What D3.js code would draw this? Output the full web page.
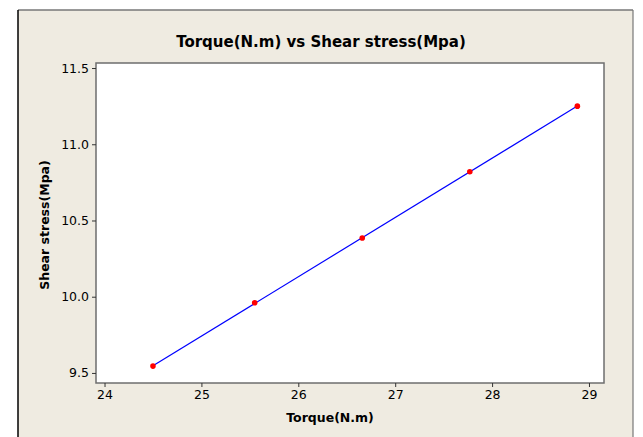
<!DOCTYPE html>
<html>
<head>
<meta charset="utf-8">
<script src="https://cdn.jsdelivr.net/npm/d3@7"></script>
<style>
  body { margin: 0; background: #fff; overflow: hidden; }
  svg { display: block; }
  text { font-family: "DejaVu Sans", Tahoma, sans-serif; fill: #000; }
</style>
</head>
<body>
<svg id="chart"></svg>
<script>
/* data */
var torque = [24.50, 25.55, 26.66, 27.77, 28.88];     // x, N.m
var stress = [9.545, 9.96, 10.385, 10.82, 11.25];     // y, Mpa
var xTicks = [24, 25, 26, 27, 28, 29];
var yTicks = [9.5, 10.0, 10.5, 11.0, 11.5];

var width = 643, height = 437,
    margin = { top: 63, right: 39, bottom: 54, left: 96 }; // plot box

var svg = d3.select("#chart")
    .attr("width", width)
    .attr("height", height);

// beige panel with frame
svg.append("rect")
    .attr("x", 18).attr("y", 10)
    .attr("width", 615).attr("height", height - 10)
    .attr("fill", "#efebe1");
svg.append("line").attr("x1", 18).attr("x2", 633).attr("y1", 10).attr("y2", 10)
    .attr("stroke", "#777").attr("stroke-width", 1.5);
svg.append("line").attr("x1", 18).attr("x2", 18).attr("y1", 10).attr("y2", height)
    .attr("stroke", "#000").attr("stroke-width", 1.5);
svg.append("line").attr("x1", 633).attr("x2", 633).attr("y1", 10).attr("y2", height)
    .attr("stroke", "#777").attr("stroke-width", 1.2);

var innerWidth = width - margin.left - margin.right;
var innerHeight = height - margin.top - margin.bottom;

var xScale = d3.scaleLinear().domain([23.912, 29.155]).range([0, innerWidth]);
var yScale = d3.scaleLinear().domain([9.434, 11.533]).range([innerHeight, 0]);

var g = svg.append("g")
    .attr("transform", "translate(" + margin.left + "," + margin.top + ")");

g.append("rect")
    .attr("width", innerWidth).attr("height", innerHeight)
    .attr("fill", "#fff")
    .attr("stroke", "#6e6e6e").attr("stroke-width", 1.5);

/* axes */
var xAxis = d3.axisBottom(xScale).tickValues(xTicks).tickSize(4).tickPadding(3)
    .tickFormat(d3.format("d"));
var yAxis = d3.axisLeft(yScale).tickValues(yTicks).tickSize(4).tickPadding(3)
    .tickFormat(d3.format(".1f"));

var xAxisG = g.append("g").attr("transform", "translate(0," + innerHeight + ")").call(xAxis);
var yAxisG = g.append("g").call(yAxis);
[xAxisG, yAxisG].forEach(function (a) {
    a.select(".domain").remove();
    a.selectAll(".tick line").attr("stroke", "#333");
    a.selectAll(".tick text").style("font-size", "12.5px").attr("fill", "#000");
});

/* fitted line (least squares on the points) */
var mx = d3.mean(torque), my = d3.mean(stress);
var slope = d3.sum(torque, function (d, i) { return (d - mx) * (stress[i] - my); }) /
            d3.sum(torque, function (d) { return (d - mx) * (d - mx); });
var icpt = my - slope * mx;
var xs = d3.extent(torque);

g.append("path")
    .datum(xs)
    .attr("fill", "none")
    .attr("stroke", "#0000ff")
    .attr("stroke-width", 1.2)
    .attr("d", d3.line()
        .x(function (d) { return xScale(d); })
        .y(function (d) { return yScale(icpt + slope * d); }));

/* points */
g.selectAll("circle.pt")
    .data(torque)
    .enter().append("circle")
    .attr("class", "pt")
    .attr("cx", function (d) { return xScale(d); })
    .attr("cy", function (d, i) { return yScale(stress[i]); })
    .attr("r", 2.8)
    .attr("fill", "#ff0000");

/* titles */
svg.append("text")
    .attr("x", 321).attr("y", 47)
    .attr("text-anchor", "middle")
    .style("font-size", "15px").style("font-weight", "bold")
    .text("Torque(N.m) vs Shear stress(Mpa)");

svg.append("text")
    .attr("x", margin.left + innerWidth / 2 - 20).attr("y", 422)
    .attr("text-anchor", "middle")
    .style("font-size", "12.5px").style("font-weight", "bold")
    .text("Torque(N.m)");

svg.append("text")
    .attr("transform", "translate(49," + (margin.top + innerHeight / 2 + 2) + ") rotate(-90)")
    .attr("text-anchor", "middle")
    .style("font-size", "12.5px").style("font-weight", "bold")
    .text("Shear stress(Mpa)");
</script>
</body>
</html>
